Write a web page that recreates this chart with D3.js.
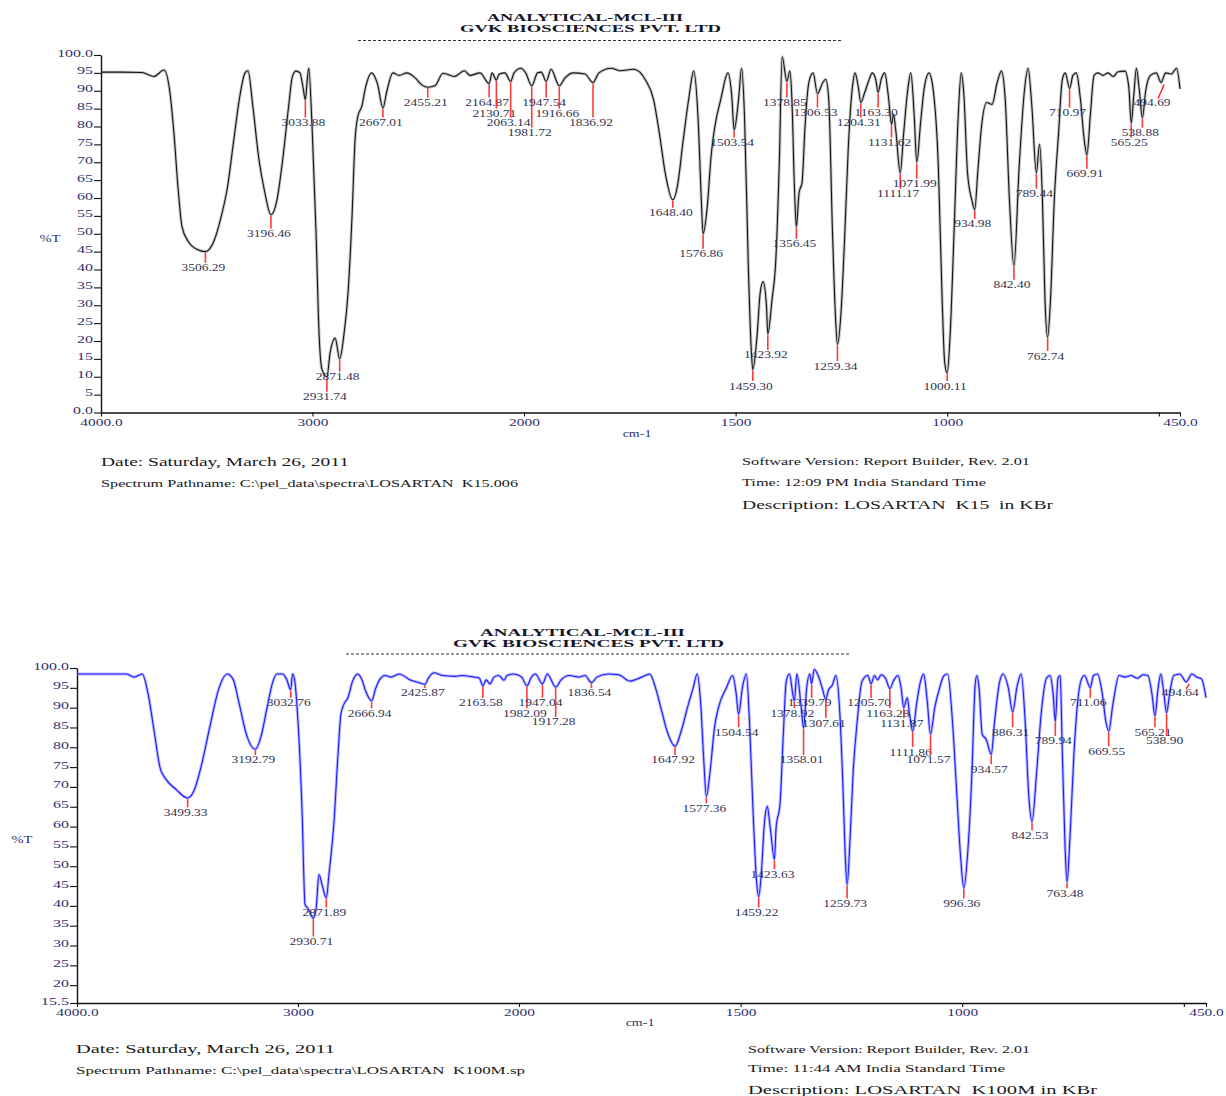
<!DOCTYPE html>
<html><head><meta charset="utf-8">
<script src="https://cdn.jsdelivr.net/npm/d3@7"></script>
<style>body{margin:0;background:#fff}svg{display:block}text{white-space:pre}</style>
</head><body>
<svg id="c" width="1226" height="1096"></svg>
<script>
// ---------------- DATA ----------------
// K15 spectrum: [wavenumber cm-1, %T]
const topSpectrum = [[4000,95.2],[3900,95.2],[3806,95.1],[3750,94.0],[3702,95.8],[3674,89.5],[3655,78],[3636,63],[3617,52],[3589,48],[3541,45.5],[3506.29,45],[3470,47.4],[3431,55],[3402,63],[3374,75.4],[3346,87.6],[3319,95],[3305,95.6],[3282,85.6],[3253,70.7],[3225,61.4],[3196.46,55.3],[3168,59.5],[3141,70.7],[3113,85.6],[3095,94],[3078,95.5],[3059,95],[3045,91],[3033.88,87.5],[3025,93],[3018,96.3],[3002,80],[2983,50],[2969,22],[2955,12],[2931.74,10],[2917,16.6],[2893,20.8],[2871.48,15],[2851,22],[2832,33.4],[2813,55],[2799,76],[2785,83],[2767,85.6],[2749,91],[2721,95],[2693,92],[2667.01,85.2],[2648,90],[2620,95],[2591,94.3],[2553,95],[2515,93.6],[2480,91.5],[2455.21,91],[2421,91.4],[2383,94.9],[2329,94],[2282,95.6],[2255,94.3],[2208,95],[2164.87,92],[2151,95],[2130.71,93],[2118,94.6],[2090,95],[2063.14,92.6],[2047,95],[2014,96.3],[1996,95],[1981.72,91.4],[1968,95],[1959,95.2],[1947.54,92.6],[1936,96],[1916.66,91.4],[1903,93.6],[1884,95],[1856,94.7],[1836.92,92.3],[1823,95],[1794,96.3],[1773,95.6],[1741,96],[1713,93],[1694,87.6],[1680,78],[1666,66.8],[1648.40,59.5],[1638,63],[1624,76],[1610,88.4],[1599,95.5],[1589,83],[1581,59.5],[1576.86,50],[1567,57.6],[1558,71.6],[1549,80],[1535,87.6],[1518,95],[1509,88.4],[1503.54,79],[1493,87.6],[1486,96.3],[1479,83],[1470,41],[1463,17.5],[1459.30,12],[1449,22],[1442,33.4],[1435,36.6],[1427,29.6],[1423.92,22],[1414,31.5],[1405,42.7],[1397,68.8],[1390,99.5],[1378.85,92.6],[1372,95.5],[1367,87.6],[1361,63],[1356.45,52],[1350,61.5],[1343,64.3],[1336,80],[1327,92.3],[1317,95],[1306.53,89.2],[1294,92.3],[1287,93.2],[1280,87.6],[1271,50],[1264,26.8],[1259.34,19],[1251,27.9],[1242,50],[1234,73.5],[1224,91],[1218,95],[1210,91],[1204.31,86.7],[1195,89.5],[1186,92.6],[1177,95],[1169,93.2],[1163.30,89.5],[1156,93.2],[1148,95],[1139,88.4],[1131.62,80.6],[1127,83.4],[1121,78.3],[1111.17,67],[1103,78],[1094,89.5],[1086,95],[1078,83],[1071.99,70],[1063,81],[1054,91],[1043,95],[1034,91],[1021,68.8],[1012,31.5],[1006,14],[1000.11,11],[993,22],[984,50],[974,83],[967,95],[961,89.5],[952,67],[942,59.5],[934.98,56.7],[928,67],[919,80],[907,86.7],[894,86.2],[882,92.3],[872,95.5],[863,87.6],[853,59.5],[842.40,41],[830,68.8],[818,89.5],[809,96.3],[800,85.6],[789.44,67],[782,75],[775,59.5],[769,31.5],[762.74,21],[756,31.5],[747,59.5],[737,78],[728,93.2],[721,95],[710.97,90.6],[703,94.3],[695,95],[686,88.4],[676,76],[669.91,72],[662,83],[653,94.3],[644,95],[632,94.3],[620,95],[608,94],[596,95.3],[580,95.5],[571,91],[565.25,81],[559,89],[553,96.3],[546,90],[538.88,82.4],[531,90],[520,94.3],[506,95],[494.69,92.3],[484,95],[470,94.7],[458,96.3],[450,90.5]];
const topPeaks = [3506.29,3196.46,3033.88,2931.74,2871.48,2667.01,2455.21,2164.87,2130.71,2063.14,1981.72,1947.54,1916.66,1836.92,1648.40,1576.86,1503.54,1459.30,1423.92,1378.85,1356.45,1306.53,1259.34,1204.31,1163.30,1131.62,1111.17,1071.99,1000.11,934.98,842.40,789.44,762.74,710.97,669.91,565.25,538.88,494.69];
const topPeakLabelT = [40.5,50.0,81.1,4.4,10.0,81.1,86.7,86.7,83.6,81.1,78.3,86.7,83.6,81.1,55.9,44.4,75.5,7.4,16.1,86.7,47.2,83.9,13.0,81.1,83.9,75.5,61.2,64.0,7.4,52.8,35.7,61.2,15.8,83.9,66.8,75.5,78.3,86.7];

// K100M spectrum: [wavenumber cm-1, %T]
const bottomSpectrum = [[4000,98.5],[3850,98.5],[3776,98.5],[3742,97.7],[3705,98.5],[3678,93.4],[3651,84.1],[3624,74.8],[3597,71.9],[3552,69.4],[3499.33,67.2],[3472,68.9],[3436,75.7],[3400,84.9],[3357,95],[3321,98.5],[3294,97.2],[3267,91.2],[3231,82.8],[3192.79,79.5],[3167,82.8],[3140,90],[3115,96.3],[3096,98.5],[3070,98.5],[3052,97.2],[3032.76,94.5],[3025,98.5],[3016,97.2],[3000,86.5],[2982,64.7],[2968,40.3],[2955,39.4],[2930.71,36.9],[2918,39.4],[2905,47.9],[2891,45.3],[2871.89,42],[2860,47.9],[2837,61.3],[2819,78.2],[2806,88.3],[2792,90.9],[2774,92.5],[2753,96.7],[2730,98.5],[2712,97.2],[2694,94.2],[2666.94,91.7],[2649,94.8],[2629,97.2],[2606,98.1],[2579,97.7],[2543,98.5],[2489,96.9],[2452,96.3],[2425.87,95.9],[2407,97.7],[2385,98.8],[2345,98.1],[2292,97.9],[2258,98.1],[2204,97.7],[2180,97.5],[2163.58,95.5],[2149,97],[2131,96],[2113,97.7],[2091,98.1],[2068,96.9],[2054,98.1],[2023,98.5],[1994,97.7],[1982.09,95.5],[1972,97.7],[1963,98.5],[1947.04,96],[1936,98.5],[1917.28,95.2],[1905,97],[1887,98.1],[1865,97.7],[1851,98.1],[1836.54,96.3],[1824,97.7],[1798,98.5],[1775,98.3],[1750,96.7],[1723,97.7],[1705,98.5],[1692,95],[1678,89.1],[1666,84.1],[1647.92,80.3],[1634,84.1],[1620,90],[1607,95],[1598,98.5],[1590,90.9],[1583,76.5],[1577.36,67.6],[1568,74.8],[1559,84.9],[1550,90],[1532,95],[1518,98.1],[1510,93.5],[1504.54,88.3],[1496,95],[1487,98.5],[1480,86.5],[1471,61.3],[1464,46.1],[1459.22,42.3],[1453,48.7],[1446,61.3],[1440,65.1],[1433,59.6],[1423.63,51.7],[1420,59.6],[1411,65.9],[1404,82.4],[1397,96.7],[1390,98.5],[1378.92,91.7],[1373,98.5],[1364,90.9],[1358.01,84.9],[1351,95],[1344,98.5],[1339.79,96],[1334,99.7],[1325,98.1],[1316,95],[1307.61,92.1],[1302,94.4],[1293,95.7],[1285,98.1],[1276,88.3],[1269,69.7],[1264,52.9],[1259.73,45.3],[1253,57.1],[1246,73.9],[1237,86.5],[1226,96.7],[1213,98.1],[1205.70,96],[1198,98.1],[1191,97],[1183,98.3],[1173,97.4],[1163.28,94.8],[1154,97],[1145,98.1],[1138,95],[1131.87,90],[1124,92.5],[1119,88.5],[1111.86,84.1],[1103,90.9],[1094,96.7],[1087,98.5],[1079,91.7],[1071.57,83.3],[1062,90],[1051,95],[1041,98.1],[1033,98.5],[1022,86.5],[1013,69.7],[1004,52.9],[996.36,44.5],[988,52.9],[978,73.9],[971,95.5],[967,98.1],[962,95],[955,83.3],[946,82],[934.57,78.2],[927,86.5],[916,96.3],[908,98.5],[896,95],[886.31,88.9],[876,95.5],[867,98.5],[858,86.5],[850,68],[842.53,61.3],[832,73.9],[822,88.3],[810,97.4],[802,98.1],[795,93.5],[789.94,86.5],[784,97.4],[779,98.1],[774,78.2],[768,55],[763.48,46],[757,57.1],[748,78.2],[740,90.9],[731,97.2],[724,98.1],[711.06,95],[704,98.1],[695,98.5],[684,93.5],[676,86.5],[669.55,84.1],[660,90.9],[646,98.1],[633,97.7],[619,98.1],[605,97.4],[592,98.3],[581,98.1],[572,93.5],[565.21,87.9],[558,95],[552,98.5],[545,93.5],[538.90,88.7],[532,93.5],[523,98.1],[509,98.5],[494.64,96.5],[482,98.5],[471,97.7],[460,97.2],[450,92.5]];
const bottomPeaks = [3499.33,3192.79,3032.76,2930.71,2871.89,2666.94,2425.87,2163.58,1982.09,1947.04,1917.28,1836.54,1647.92,1577.36,1504.54,1459.22,1423.63,1378.92,1358.01,1339.79,1307.61,1259.73,1205.70,1163.28,1131.87,1111.86,1071.57,996.36,934.57,886.31,842.53,789.94,763.48,711.06,669.55,565.21,538.90,494.64];
const bottomPeakLabelT = [63.6,76.8,91.2,31.0,38.3,88.6,93.7,91.2,88.6,91.2,86.4,93.7,76.8,64.6,83.8,38.3,48.0,88.6,76.8,91.2,86.1,40.6,91.2,88.6,86.1,78.8,76.8,40.6,74.5,83.8,57.8,81.6,43.2,91.2,79.0,83.8,81.6,93.7];

const xTickValues = [4000,3000,2000,1500,1000,500,450];
const xTickLabels = ["4000.0","3000","2000","1500","1000","","450.0"];
const topYTicks = [100,95,90,85,80,75,70,65,60,55,50,45,40,35,30,25,20,15,10,5,0];
const bottomYTicks = [100,95,90,85,80,75,70,65,60,55,50,45,40,35,30,25,20,15.5];

const titleLines = ["ANALYTICAL-MCL-III","GVK BIOSCIENCES PVT. LTD"];
const topFooter = ["Date: Saturday, March 26, 2011","Spectrum Pathname: C:\\pel_data\\spectra\\LOSARTAN  K15.006","Software Version: Report Builder, Rev. 2.01","Time: 12:09 PM India Standard Time","Description: LOSARTAN  K15  in KBr"];
const bottomFooter = ["Date: Saturday, March 26, 2011","Spectrum Pathname: C:\\pel_data\\spectra\\LOSARTAN  K100M.sp","Software Version: Report Builder, Rev. 2.01","Time: 11:44 AM India Standard Time","Description: LOSARTAN  K100M in KBr"];

// ---------------- LAYOUT ----------------
const FONT = '"Liberation Serif","Times New Roman",serif';
const svg = d3.select("#c");

const panels = [
  { spectrum: topSpectrum, peaks: topPeaks, labelT: topPeakLabelT, yTicks: topYTicks,
    xRange: [101, 524, 1180], yDomain: [0, 100], yRange: [412.5, 55],
    line: "#161616", halo: "#7d7d7d", haloOp: 0.45,
    title: [{x:487, y:21, w:196}, {x:460, y:31.7, w:261}], dash: {x1:358, x2:841, y:40.5},
    yLabel: {x:50, y:238}, xLabel: {x:637, y:433},
    footer: topFooter,
    footerPos: [{x:101,y:465.5,w:248,s:13},{x:101,y:486.5,w:417,s:10},{x:742,y:464.5,w:288,s:10},{x:742,y:485.5,w:244,s:10},{x:742,y:508.5,w:311,s:13}],
    shift: {"494.69": -9} },
  { spectrum: bottomSpectrum, peaks: bottomPeaks, labelT: bottomPeakLabelT, yTicks: bottomYTicks,
    xRange: [77, 519, 1206], yDomain: [15.5, 100], yRange: [1003, 668],
    line: "#1c1cff", halo: "#8080ff", haloOp: 0.55,
    title: [{x:480, y:636, w:205}, {x:453, y:646.5, w:271}], dash: {x1:346, x2:851, y:654},
    yLabel: {x:22, y:839}, xLabel: {x:640, y:1022},
    footer: bottomFooter,
    footerPos: [{x:76,y:1052.5,w:259,s:13},{x:76,y:1073.5,w:449,s:10},{x:748,y:1052.5,w:282,s:10},{x:748,y:1071.5,w:257,s:10},{x:748,y:1093.5,w:349,s:13}],
    shift: {"494.64": -6} }
];

function fitText(x, y, str, size, width, weight, fill) {
  svg.append("text").attr("x", x).attr("y", y)
    .attr("xml:space", "preserve")
    .attr("font-family", FONT).attr("font-size", size)
    .attr("font-weight", weight || "normal").attr("fill", fill || "#1a1a1a")
    .attr("textLength", width).attr("lengthAdjust", "spacingAndGlyphs")
    .text(str);
}
function stretchText(parent, x, y, str, size, sx, anchor, fill) {
  return parent.append("text")
    .attr("transform", `translate(${x},${y}) scale(${sx},1)`)
    .attr("text-anchor", anchor).attr("font-family", FONT)
    .attr("font-size", size).attr("fill", fill).text(str);
}

panels.forEach(p => {
  const g = svg.append("g");
  const x = d3.scaleLinear().domain([4000, 2000, 450]).range(p.xRange);
  const y = d3.scaleLinear().domain(p.yDomain).range(p.yRange);

  // titles
  titleLines.forEach((t, i) => fitText(p.title[i].x, p.title[i].y, t, 11, p.title[i].w, "bold", "#15152a"));
  g.append("line").attr("x1", p.dash.x1).attr("x2", p.dash.x2).attr("y1", p.dash.y).attr("y2", p.dash.y)
    .attr("stroke", "#333").attr("stroke-width", 1).attr("stroke-dasharray", "3,2");

  // axes
  const yAxis = d3.axisLeft(y).tickValues(p.yTicks).tickSize(7).tickSizeOuter(0)
    .tickFormat(d => (d === 100 ? "100.0" : d === 0 ? "0.0" : String(d)));
  const ya = g.append("g").attr("transform", `translate(${p.xRange[0]},0)`).call(yAxis);
  ya.selectAll("text").attr("x", null).attr("dy", null)
    .attr("transform", "translate(-8,1) scale(1.45,1)")
    .attr("font-family", FONT).attr("font-size", 11).attr("fill", "#2e2e70");

  const xAxis = d3.axisBottom(x).tickValues(xTickValues).tickSize(4).tickSizeOuter(0)
    .tickFormat((d, i) => xTickLabels[i]);
  const xa = g.append("g").attr("transform", `translate(0,${p.yRange[0]})`).call(xAxis);
  xa.selectAll("text").attr("y", null).attr("dy", null)
    .attr("transform", "translate(0,13) scale(1.4,1)")
    .attr("font-family", FONT).attr("font-size", 11).attr("fill", "#2e2e70");
  [ya, xa].forEach(a => {
    a.select(".domain").attr("stroke", "#111").attr("stroke-width", 1.4);
    a.selectAll(".tick line").attr("stroke", "#111").attr("stroke-width", 1.1);
  });

  stretchText(g, p.yLabel.x, p.yLabel.y + 3.5, "%T", 10, 1.45, "middle", "#2e2e70");
  stretchText(g, p.xLabel.x, p.xLabel.y + 3.5, "cm-1", 10, 1.4, "middle", "#2e2e70");

  // spectrum line
  const line = d3.line().x(d => x(d[0])).y(d => y(d[1])).curve(d3.curveMonotoneX);
  g.append("path").datum(p.spectrum).attr("d", line).attr("fill", "none")
    .attr("stroke", p.halo).attr("stroke-opacity", p.haloOp).attr("stroke-width", 3);
  g.append("path").datum(p.spectrum).attr("d", line).attr("fill", "none")
    .attr("stroke", p.line).attr("stroke-width", 1.1);

  // peak markers & labels
  const lookup = new Map(p.spectrum.map(d => [d[0], d[1]]));
  p.peaks.forEach((wn, i) => {
    const px = x(wn);
    const dipY = y(lookup.get(wn));
    const ly = y(p.labelT[i]);
    const dx = p.shift[String(wn)];
    if (dx !== undefined) {
      g.append("line").attr("x1", px + dx + 6).attr("y1", ly - 4).attr("x2", px + 3).attr("y2", dipY + 2)
        .attr("stroke", "#f22").attr("stroke-width", 1.5);
      stretchText(g, px + dx, ly + 3.5, wn.toFixed(2), 10, 1.35, "middle", "#33334f");
    } else {
      g.append("line").attr("x1", px).attr("x2", px).attr("y1", dipY + 1).attr("y2", ly - 5)
        .attr("stroke", "#f22").attr("stroke-width", 1.6).attr("stroke-opacity", 0.9);
      stretchText(g, px - 2, ly + 3.5, wn.toFixed(2), 10, 1.35, "middle", "#33334f");
    }
  });

  // footer
  p.footer.forEach((t, i) => {
    const f = p.footerPos[i];
    fitText(f.x, f.y, t, f.s, f.w, "normal", "#1a1a1a");
  });
});
</script>
</body></html>
